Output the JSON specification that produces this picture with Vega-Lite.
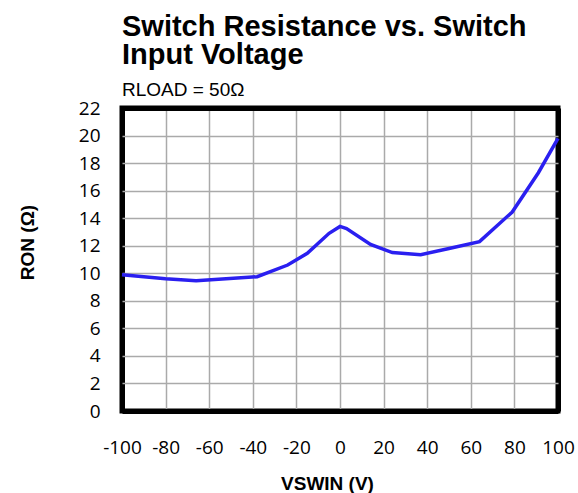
{
  "$schema": "https://vega.github.io/schema/vega-lite/v6.json",
  "autosize": {"type": "none"},
  "width": 436,
  "height": 303,
  "padding": {"left": 122, "top": 108, "right": 20, "bottom": 82},
  "background": "white",
  "title": {
    "text": ["Switch Resistance vs. Switch", "Input Voltage"],
    "subtitle": "RLOAD = 50Ω",
    "anchor": "start",
    "frame": "group",
    "font": "Liberation Sans",
    "fontSize": 29,
    "fontWeight": "bold",
    "lineHeight": 28,
    "color": "black",
    "subtitleFont": "Liberation Sans",
    "subtitleFontSize": 19,
    "subtitleColor": "black",
    "subtitlePadding": 11,
    "offset": -1
  },
  "config": {
    "view": {"stroke": "black", "strokeWidth": 5},
    "axis": {
      "grid": true,
      "gridColor": "#aaaaaa",
      "gridWidth": 1.5,
      "gridOpacity": 1,
      "domain": false,
      "ticks": false,
      "labelFont": "Open Sans",
      "labelFontSize": 19,
      "labelColor": "black",
      "titleFont": "Liberation Sans",
      "titleFontSize": 19,
      "titleFontWeight": "bold",
      "titleColor": "black"
    }
  },
  "data": {
    "values": [
      {"v": -100, "r": 9.9},
      {"v": -80, "r": 9.6},
      {"v": -66, "r": 9.45},
      {"v": -38, "r": 9.75},
      {"v": -24, "r": 10.6},
      {"v": -15, "r": 11.45},
      {"v": -5, "r": 12.9},
      {"v": 0, "r": 13.4},
      {"v": 3, "r": 13.25},
      {"v": 14, "r": 12.1},
      {"v": 24, "r": 11.5},
      {"v": 37, "r": 11.35},
      {"v": 50, "r": 11.8},
      {"v": 64, "r": 12.3},
      {"v": 79, "r": 14.45},
      {"v": 91, "r": 17.3},
      {"v": 100, "r": 19.8}
    ]
  },
  "mark": {"type": "line", "color": "#2a1ff0", "strokeWidth": 3.5},
  "encoding": {
    "x": {
      "field": "v",
      "type": "quantitative",
      "scale": {"domain": [-100, 100], "nice": false},
      "axis": {
        "values": [-100, -80, -60, -40, -20, 0, 20, 40, 60, 80, 100],
        "labelExpr": "'' + datum.value",
        "labelPadding": 27,
        "title": "VSWIN (V)",
        "titlePadding": 17,
        "titleX": 205,
        "labelFlush": false,
        "gridColor": {"condition": {"test": "abs(datum.value) == 100", "value": "black"}, "value": "#aaaaaa"},
        "gridWidth": {"condition": {"test": "abs(datum.value) == 100", "value": 5}, "value": 1.5}
      }
    },
    "y": {
      "field": "r",
      "type": "quantitative",
      "scale": {"domain": [0, 22], "nice": false},
      "axis": {
        "values": [0, 2, 4, 6, 8, 10, 12, 14, 16, 18, 20, 22],
        "labelPadding": 22,
        "title": "RON (Ω)",
        "titlePadding": 41,
        "titleY": 134,
        "gridColor": {"condition": {"test": "datum.value == 0 || datum.value == 22", "value": "black"}, "value": "#aaaaaa"},
        "gridWidth": {"condition": {"test": "datum.value == 0 || datum.value == 22", "value": 5}, "value": 1.5}
      }
    }
  }
}
